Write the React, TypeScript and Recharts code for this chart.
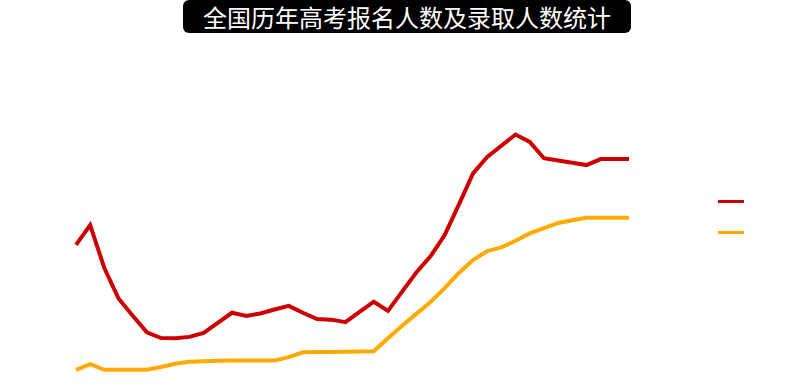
import React from "react";
import { LineChart, Line, XAxis, YAxis, Legend } from "recharts";

// 年份 1977-2016，单位：万人
const years = [
  1977, 1978, 1979, 1980, 1981, 1982, 1983, 1984, 1985, 1986,
  1987, 1988, 1989, 1990, 1991, 1992, 1993, 1994, 1995, 1996,
  1997, 1998, 1999, 2000, 2001, 2002, 2003, 2004, 2005, 2006,
  2007, 2008, 2009, 2010, 2011, 2012, 2013, 2014, 2015, 2016,
];

const applicants = [
  570, 656, 469, 337, 262, 190, 165, 164, 170, 187,
  231, 275, 261, 272, 289, 305, 275, 248, 245, 234,
  279, 323, 283, 367, 450, 520, 613, 745, 881, 952,
  1001, 1050, 1018, 947, 937, 927, 917, 943, 943, 943,
];

const admitted = [
  27, 52, 27, 27, 27, 27, 39, 53, 62, 64,
  66, 67, 67, 67, 67, 82, 103, 104, 104, 105,
  106, 108, 164, 218, 270, 322, 382, 448, 504, 543,
  559, 588, 620, 643, 665, 677, 688, 688, 688, 688,
];

const seriesNames = ["报名人数", "录取人数"];
const seriesColors = ["#cc0000", "#ffaa00"];

const data = years.map((year, i) => ({
  year,
  applicants: applicants[i],
  admitted: admitted[i],
}));

function SwatchLegend() {
  return (
    <div style={{ display: "flex", flexDirection: "column", gap: 28 }}>
      {seriesColors.map((c, i) => (
        <div
          key={seriesNames[i]}
          style={{ width: 26, height: 3, background: c }}
        />
      ))}
    </div>
  );
}

export default function App() {
  return (
    <div
      style={{
        position: "absolute",
        left: 0,
        top: 0,
        width: 810,
        height: 387,
        background: "#fff",
      }}
    >
      <div
        style={{
          position: "absolute",
          left: 183,
          top: 0,
          width: 448,
          height: 33,
          background: "#000",
          borderRadius: 6,
          color: "#fff",
          fontFamily: '"Noto Sans CJK SC", sans-serif',
          fontSize: 24,
          lineHeight: "34px",
          textAlign: "center",
        }}
      >
        全国历年高考报名人数及录取人数统计
      </div>
      <LineChart
        width={810}
        height={387}
        data={data}
        margin={{ top: 100, right: 181, bottom: 11, left: 76 }}
      >
        <XAxis dataKey="year" type="number" domain={[1977, 2016]} hide />
        <YAxis domain={[0, 1200]} hide />
        <Legend
          align="center"
          verticalAlign="middle"
          content={<SwatchLegend />}
          wrapperStyle={{ left: 718, top: 200, width: 26 }}
        />
        <Line
          type="linear"
          dataKey="applicants"
          name={seriesNames[0]}
          stroke={seriesColors[0]}
          strokeWidth={4}
          dot={false}
          isAnimationActive={false}
        />
        <Line
          type="linear"
          dataKey="admitted"
          name={seriesNames[1]}
          stroke={seriesColors[1]}
          strokeWidth={4}
          dot={false}
          isAnimationActive={false}
        />
      </LineChart>
    </div>
  );
}
